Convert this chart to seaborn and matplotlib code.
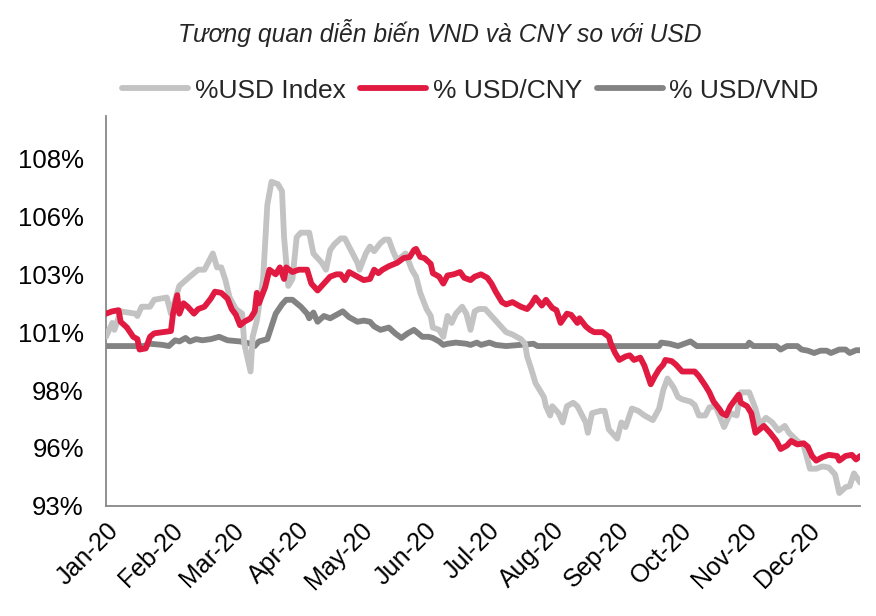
import numpy as np
import pandas as pd
import matplotlib
matplotlib.use('Agg')
import matplotlib.pyplot as plt
import matplotlib.dates as mdates
from matplotlib.ticker import FuncFormatter
import seaborn as sns

# days counted from 1 Jan 2020, values in % (start of year = ~100)
usd_day = [0, 3, 4, 7, 14, 15, 17, 21, 23, 29, 31, 35, 40, 44, 47, 51, 53, 55, 57, 59,
           62, 65, 66, 69, 70, 72, 75, 77, 79, 82, 84, 85, 87, 89, 91, 93, 97, 99, 103, 105,
           107, 109, 112, 114, 116, 120, 121, 124, 126, 128, 131, 133, 135, 137, 139, 143, 146, 148, 150, 153,
           155, 156, 159, 161, 163, 165, 167, 170, 172, 174, 176, 178, 181, 183, 186, 188, 191, 194, 198, 200,
           201, 203, 205, 207, 209, 210, 212, 213, 216, 218, 220, 223, 225, 229, 230, 232, 236, 238, 240, 244,
           246, 248, 251, 254, 257, 261, 264, 266, 268, 271, 273, 275, 279, 281, 283, 286, 288, 291, 295, 298,
           301, 303, 307, 310, 312, 315, 318, 321, 324, 326, 330, 333, 336, 339, 342, 345, 348, 350, 353, 355,
           357, 360]
usd_val = [100.3, 100.9, 100.6, 101.4, 101.3, 101.2, 101.6, 101.6, 101.9, 102.0, 101.3, 102.5, 102.9, 103.2, 103.2, 103.9, 103.3, 103.3, 102.75, 102.0,
           101.5, 101.3, 100.0, 98.8, 100.3, 101.0, 102.8, 106.0, 107.0, 106.9, 106.6, 104.6, 102.5, 102.8, 104.6, 104.8, 104.8, 103.9, 103.5, 103.2,
           104.05, 104.3, 104.55, 104.55, 104.2, 103.5, 103.2, 103.9, 104.2, 104.0, 104.35, 104.5, 104.5, 104.0, 103.6, 103.9, 103.2, 102.9, 102.2, 101.5,
           101.2, 100.7, 100.6, 100.3, 101.2, 100.9, 101.3, 101.6, 101.3, 100.6, 101.4, 101.5, 101.5, 101.3, 101.0, 100.8, 100.5, 100.4, 100.2, 100.0,
           99.45, 98.9, 98.3, 98.0, 97.7, 97.3, 96.9, 97.3, 97.0, 96.6, 97.3, 97.45, 97.3, 96.6, 96.15, 97.0, 97.1, 97.1, 96.3, 95.9,
           96.6, 96.4, 97.2, 97.1, 96.9, 96.7, 97.2, 98.0, 98.5, 98.1, 97.7, 97.6, 97.5, 97.35, 96.9, 96.9, 97.25, 97.3, 96.4, 97.0,
           96.9, 97.9, 97.9, 97.2, 96.5, 96.8, 96.6, 96.25, 96.45, 96.15, 95.8, 95.6, 94.6, 94.6, 94.7, 94.65, 94.35, 93.55, 93.8, 93.85,
           94.4, 94.0]

cny_day = [0, 3, 6, 7, 10, 13, 15, 16, 19, 21, 23, 27, 31, 32, 34, 35, 37, 39, 42, 44,
           47, 50, 52, 55, 58, 60, 62, 64, 66, 69, 71, 72, 73, 76, 78, 81, 83, 85, 86, 89,
           92, 96, 98, 101, 104, 107, 110, 112, 114, 116, 120, 123, 126, 128, 130, 132, 135, 139, 142, 145,
           147, 148, 150, 152, 155, 156, 159, 161, 163, 166, 169, 171, 174, 176, 179, 182, 184, 186, 189, 191,
           194, 198, 201, 203, 205, 208, 210, 213, 215, 217, 220, 222, 225, 226, 229, 231, 233, 237, 240, 241,
           243, 245, 248, 250, 252, 255, 257, 260, 262, 264, 266, 267, 270, 272, 275, 277, 281, 283, 286, 288,
           290, 293, 294, 296, 298, 300, 302, 303, 306, 308, 310, 312, 314, 317, 320, 322, 325, 327, 330, 333,
           335, 337, 339, 342, 345, 349, 350, 353, 356, 358, 360]
cny_val = [101.3, 101.4, 101.45, 100.95, 100.7, 100.3, 100.2, 99.75, 99.8, 100.3, 100.45, 100.5, 100.55, 101.3, 102.1, 101.3, 101.75, 101.6, 101.3, 101.5,
           101.6, 101.95, 102.25, 102.2, 101.95, 101.5, 101.25, 100.8, 100.95, 101.1, 101.4, 102.2, 101.75, 102.45, 103.2, 103.0, 103.3, 102.8, 103.3, 103.1,
           103.2, 103.2, 102.6, 102.3, 102.6, 102.9, 103.0, 103.0, 102.75, 103.1, 102.9, 102.75, 102.8, 103.2, 103.05, 103.2, 103.35, 103.5, 103.7, 103.75,
           104.05, 104.1, 103.75, 103.7, 103.45, 103.05, 102.9, 102.6, 102.95, 103.0, 103.1, 102.85, 102.75, 102.9, 103.0, 102.85, 102.6, 102.25, 101.8, 101.7,
           101.8, 101.6, 101.5, 101.7, 102.0, 101.65, 101.9, 101.55, 101.45, 100.9, 101.3, 101.25, 100.9, 101.1, 100.75, 100.6, 100.5, 100.5, 100.3, 100.0,
           99.6, 99.3, 99.45, 99.5, 99.3, 99.4, 99.05, 98.25, 98.6, 98.9, 99.1, 99.3, 99.25, 99.1, 98.8, 98.8, 98.8, 98.6, 98.2, 97.9,
           97.5, 97.15, 97.0, 96.9, 97.3, 97.55, 97.8, 97.45, 97.3, 97.0, 96.15, 96.3, 96.45, 96.15, 95.8, 95.45, 95.6, 95.8, 95.65, 95.7,
           95.55, 95.15, 94.95, 95.1, 95.2, 95.15, 94.95, 95.15, 95.2, 95.0, 95.15]

vnd_day = [0, 18, 21, 27, 30, 33, 35, 38, 40, 43, 46, 50, 54, 58, 64, 69, 71, 73, 77, 79,
           81, 84, 86, 89, 93, 96, 97, 99, 101, 104, 107, 110, 113, 116, 120, 123, 126, 128, 131, 135,
           138, 141, 144, 147, 149, 151, 154, 156, 159, 161, 163, 167, 172, 174, 177, 179, 183, 186, 191, 204,
           206, 264, 265, 269, 273, 276, 279, 282, 306, 307, 309, 320, 322, 325, 330, 332, 335, 338, 341, 344,
           346, 350, 353, 355, 358, 360]
vnd_val = [99.9, 99.9, 100.0, 99.95, 99.9, 100.15, 100.1, 100.25, 100.1, 100.2, 100.15, 100.2, 100.3, 100.15, 100.1, 100.0, 99.9, 100.1, 100.2, 100.75,
           101.3, 101.7, 101.9, 101.9, 101.6, 101.3, 101.1, 101.35, 100.95, 101.2, 101.1, 101.25, 101.4, 101.15, 100.95, 101.0, 100.95, 100.75, 100.6, 100.7,
           100.45, 100.25, 100.45, 100.6, 100.45, 100.3, 100.3, 100.25, 100.1, 99.95, 100.0, 100.05, 100.0, 99.95, 100.05, 99.95, 100.05, 99.95, 99.9, 100.0,
           99.9, 99.9, 100.05, 100.0, 99.9, 100.0, 100.1, 99.9, 99.9, 100.05, 99.9, 99.9, 99.75, 99.9, 99.9, 99.75, 99.7, 99.6, 99.7, 99.7,
           99.6, 99.75, 99.75, 99.6, 99.72, 99.72]

yticks = [93, 95.5, 98, 100.5, 103, 105.5, 108]

start = pd.Timestamp('2020-01-01')

def to_df(days, vals):
    return pd.DataFrame({'date': start + pd.to_timedelta(days, unit='D'), 'value': vals})

usd = to_df(usd_day, usd_val)
cny = to_df(cny_day, cny_val)
vnd = to_df(vnd_day, vnd_val)

sns.set_theme(style='white')
plt.rcParams['font.family'] = ['Liberation Sans', 'DejaVu Sans']

fig = plt.figure(figsize=(8.76, 6.16), dpi=100)
ax = fig.add_axes([0.121, 0.179, 0.861, 0.633])

sns.lineplot(data=vnd, x='date', y='value', color='#838383', lw=4.2, label='% USD/VND', ax=ax, zorder=2)
sns.lineplot(data=usd, x='date', y='value', color='#C3C3C3', lw=4.2, label='%USD Index', ax=ax, zorder=3)
sns.lineplot(data=cny, x='date', y='value', color='#E01A40', lw=4.2, label='% USD/CNY', ax=ax, zorder=4)

ax.set_xlim(start, start + pd.Timedelta(days=360))
ax.set_ylim(93, 109.85)
ax.set_yticks(yticks)
ax.yaxis.set_major_formatter(FuncFormatter(lambda v, p: f'{int(np.floor(v + 0.5))}%'))
ax.xaxis.set_major_locator(mdates.MonthLocator())
ax.xaxis.set_major_formatter(mdates.DateFormatter('%b-%y'))
plt.setp(ax.get_xticklabels(), rotation=45, ha='right', rotation_mode='anchor')

ax.set_xlabel('')
ax.set_ylabel('')
for s in ['top', 'right']:
    ax.spines[s].set_visible(False)
for s in ['left', 'bottom']:
    ax.spines[s].set_color('#888888')
    ax.spines[s].set_linewidth(1.3)
ax.tick_params(axis='y', which='major', direction='out', length=6, width=1.3,
               color='#888888', labelsize=18.5, labelcolor='black', pad=10)
ax.tick_params(axis='x', which='major', direction='out', length=5, width=1.3,
               color='#888888', labelsize=18, labelcolor='black', pad=4)

handles, labels = ax.get_legend_handles_labels()
order = [labels.index('%USD Index'), labels.index('% USD/CNY'), labels.index('% USD/VND')]
ax.legend([handles[i] for i in order], [labels[i] for i in order],
          loc='center', bbox_to_anchor=(0.537, 0.853), bbox_transform=fig.transFigure,
          ncol=3, frameon=False, fontsize=19, handlelength=2.5, handletextpad=0.25,
          columnspacing=0.55)

fig.text(0.502, 0.947, 'Tương quan diễn biến VND và CNY so với USD', ha='center', va='center',
         fontsize=17.7, style='italic', family=['Liberation Sans Narrow', 'Liberation Sans', 'DejaVu Sans'])

fig.savefig('out.png', dpi=100)
